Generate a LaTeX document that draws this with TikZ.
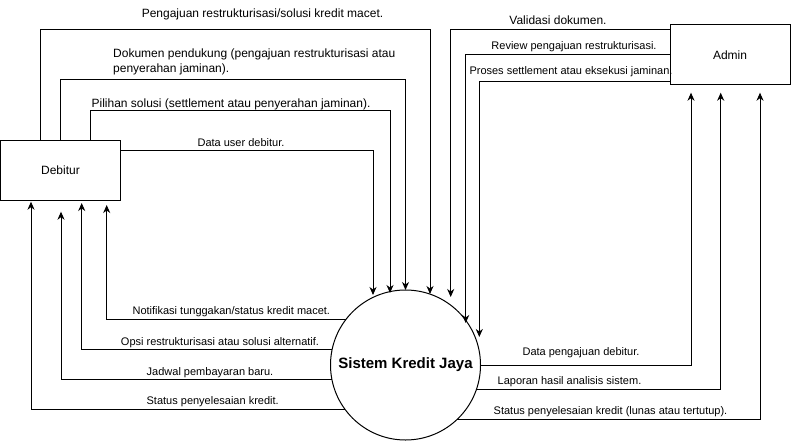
\documentclass[tikz,border=0pt]{standalone}
\usepackage{fontspec}
\setmainfont{Liberation Sans}
\usetikzlibrary{arrows.meta}
\newcommand\fsz[1]{\fontsize{#1}{#1}\selectfont}
\tikzset{
  box/.style={draw, line width=1pt, minimum width=120pt, minimum height=60pt, inner sep=0pt, outer sep=0pt, font=\fsz{12}},
  proc/.style={draw, circle, line width=1pt, minimum size=150pt, inner sep=0pt, outer sep=0pt, font=\bfseries\fsz{15}},
  flow/.style={line width=1pt, -{Stealth[length=8pt,width=7pt,inset=2.5pt]}},
  lbl/.style={inner sep=0pt, anchor=base, font=\fsz{11}},
  lblb/.style={lbl, font=\fsz{12}},
  lbll/.style={inner sep=0pt, anchor=base west, font=\fsz{12}}
}
\begin{document}
\begin{tikzpicture}[x=1pt,y=-1pt]
\useasboundingbox (0,0) rectangle (791,441);
\fill[white] (0,0) rectangle (791,441);

\node[box] (deb) at (60.5,170) {Debitur};
\node[box] (adm) at (730,55) {Admin};
\node[proc] (sys) at (405.5,365) {Sistem Kredit Jaya};

% free ends
\coordinate (t1) at (430,294);
\coordinate (t3) at (390,293);
\coordinate (t4) at (373,295);
\coordinate (v1) at (450.7,297);
\coordinate (v2) at (465.7,323);
\coordinate (v3) at (479.3,337);
\coordinate (d1) at (106.7,205);
\coordinate (d2) at (81.7,203);
\coordinate (d3) at (61,211.7);
\coordinate (d4) at (31,201.7);
\coordinate (a1) at (691,92.7);
\coordinate (a2) at (720.7,92.7);
\coordinate (a3) at (760,92.7);

% Debitur -> Sistem
\draw[flow] ([xshift=-20.5pt]deb.north) |- (430,30) -- (t1);
\draw[flow] ([xshift=-0.5pt]deb.north) |- (405.5,80) -- (sys.north);
\draw[flow] ([xshift=29.5pt]deb.north) |- (390,110) -- (t3);
\draw[flow] ([yshift=20pt]deb.east) -| (t4);

% Admin -> Sistem
\draw[flow] ([yshift=25pt]adm.west) -| (v1);
\draw[flow] (adm.west) -| (v2);
\draw[flow] ([yshift=-27pt]adm.west) -| (v3);

% Sistem -> Debitur
\draw[flow] (sys.143.13) -| (d1);
\draw[flow] (sys.168.46) -| (d2);
\draw[flow] (sys.191.54) -| (d3);
\draw[flow] (sys.216.87) -| (d4);

% Sistem -> Admin
\draw[flow] (sys.east) -| (a1);
\draw[flow] (sys.-19.47) -| (a2);
\draw[flow] (sys.-47.17) -| (a3);

% labels
\node[lblb] (l1) at (262.5,18) {Pengajuan restrukturisasi/solusi kredit macet.};
\node[lbll] (l2a) at (113,57.3) {Dokumen pendukung (pengajuan restrukturisasi atau};
\node[lbll] (l2b) at (113,72.7) {penyerahan jaminan).};
\node[lblb] (l3) at (231,107) {Pilihan solusi (settlement atau penyerahan jaminan).};
\node[lbl] (l4) at (241,146.7) {Data user debitur.};
\node[lblb] (l5) at (558,25) {Validasi dokumen.};
\node[lbl] (l6) at (574,50) {Review pengajuan restrukturisasi.};
\node[lbl] (l7) at (571,75) {Proses settlement atau eksekusi jaminan.};
\node[lbl] (l8) at (231.3,314.3) {Notifikasi tunggakan/status kredit macet.};
\node[lbl] (l9) at (220,345) {Opsi restrukturisasi atau solusi alternatif.};
\node[lbl] (l10) at (210,375) {Jadwal pembayaran baru.};
\node[lbl] (l11) at (212.7,404.3) {Status penyelesaian kredit.};
\node[lbl] (l12) at (581,355) {Data pengajuan debitur.};
\node[lbl] (l13) at (569.5,384) {Laporan hasil analisis sistem.};
\node[lbl] (l14) at (610.5,414.3) {Status penyelesaian kredit (lunas atau tertutup).};
\end{tikzpicture}
\end{document}
